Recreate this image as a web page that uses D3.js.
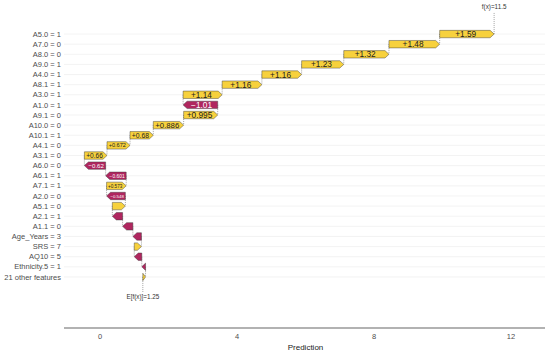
<!DOCTYPE html>
<html><head><meta charset="utf-8">
<script src="https://cdn.jsdelivr.net/npm/d3@7"></script>
<style>body{margin:0;background:#fff}svg{display:block}text{font-family:"Liberation Sans",Arial,sans-serif}</style>
</head><body>
<script>
const features = ["A5.0 = 1","A7.0 = 0","A8.0 = 0","A9.0 = 1","A4.0 = 1","A8.1 = 1","A3.0 = 1","A1.0 = 1","A9.1 = 0","A10.0 = 0","A10.1 = 1","A4.1 = 0","A3.1 = 0","A6.0 = 0","A6.1 = 1","A7.1 = 1","A2.0 = 0","A5.1 = 0","A2.1 = 1","A1.1 = 0","Age_Years = 3","SRS = 7","AQ10 = 5","Ethnicity.5 = 1","21 other features"];
const shapValues = [1.59,1.48,1.32,1.23,1.16,1.16,1.14,-1.01,0.995,0.886,0.68,0.672,0.66,-0.62,-0.601,0.573,-0.548,0.38,-0.30,-0.30,-0.25,0.21,-0.22,-0.11,0.08];
const baseline = 1.25;
const baselineLabel = "E[f(x)]=1.25";
const predictionLabel = "f(x)=11.5";
const xTicks = [0,4,8,12];
const xTitle = "Prediction";

const W = 550, H = 351;
const svg = d3.select("body").append("svg").attr("width", W).attr("height", H);
const x = d3.scaleLinear().domain([0, 12]).range([100, 511]);
const y = d3.scaleBand().domain(features).range([29, 282]);
const panelL = 64, panelR = 545;
const barH = 7.4, tipMax = 4;
const yellow = "#f7d13d", red = "#b0265f";

const rows = [];
let cum = baseline;
for (let i = features.length - 1; i >= 0; i--) {
  const v = shapValues[i];
  rows[i] = {f: features[i], v, start: cum, end: cum + v};
  cum += v;
}
const finalPred = cum;

svg.append("g").selectAll("line").data(features).join("line")
  .attr("x1", panelL).attr("x2", panelR)
  .attr("y1", d => y(d) + y.bandwidth()/2).attr("y2", d => y(d) + y.bandwidth()/2)
  .attr("stroke", "#ebebeb").attr("stroke-width", 0.6);

svg.append("g").selectAll("text").data(features).join("text")
  .attr("x", 61).attr("y", d => y(d) + y.bandwidth()/2).attr("dy", "0.35em")
  .attr("text-anchor", "end").attr("font-size", 7.5).attr("fill", "#4d4d4d").text(d => d);

const conn = svg.append("g").attr("stroke", "#666").attr("stroke-width", 0.6).attr("stroke-dasharray", "1,1");
for (let i = 0; i < rows.length - 1; i++) {
  const yc = y(rows[i].f) + y.bandwidth()/2, yn = y(rows[i+1].f) + y.bandwidth()/2;
  conn.append("line").attr("x1", x(rows[i].start)).attr("x2", x(rows[i].start))
    .attr("y1", yc).attr("y2", yn);
}
const yb = y(features[features.length-1]) + y.bandwidth()/2;
conn.append("line").attr("x1", x(baseline)).attr("x2", x(baseline)).attr("y1", yb).attr("y2", 292);
const yt = y(features[0]) + y.bandwidth()/2;
conn.append("line").attr("x1", x(finalPred)).attr("x2", x(finalPred)).attr("y1", yt).attr("y2", 12);

svg.append("text").attr("x", x(baseline)).attr("y", 299).attr("text-anchor", "middle")
  .attr("font-size", 6.3).attr("fill", "#333").text(baselineLabel);
svg.append("text").attr("x", x(finalPred)).attr("y", 9).attr("text-anchor", "middle")
  .attr("font-size", 6.3).attr("fill", "#333").text(predictionLabel);

const fmt = v => (v >= 0 ? "+" : "\u2212") + d3.format(".3~g")(Math.abs(v));
const bars = svg.append("g");
rows.forEach(r => {
  const yc = y(r.f) + y.bandwidth()/2, t = yc - barH/2, b = yc + barH/2;
  const x0 = x(r.start), x1 = x(r.end);
  const w = Math.abs(x1 - x0);
  const tip = Math.min(tipMax, w);
  const dir = r.v >= 0 ? 1 : -1;
  const pts = [[x0, t], [x1 - dir*tip, t], [x1, yc], [x1 - dir*tip, b], [x0, b]];
  bars.append("polygon").attr("points", pts.map(p => p.join(",")).join(" "))
    .attr("fill", r.v >= 0 ? yellow : red).attr("stroke", "#3a3a3a").attr("stroke-width", 0.45);
  const label = fmt(r.v);
  const emW = label.length * 0.556 + 0.05;
  const avail = w - 4;
  let fs = Math.min(8.3, avail / emW);
  if (fs >= 4) {
    bars.append("text").attr("x", (x0 + x1)/2 - dir*1.2).attr("y", yc).attr("dy", "0.36em")
      .attr("text-anchor", "middle").attr("font-size", fs)
      .attr("fill", r.v >= 0 ? "#222" : "#fff").text(label);
  }
});

svg.append("line").attr("x1", panelL).attr("x2", panelR).attr("y1", 328).attr("y2", 328)
  .attr("stroke", "#222").attr("stroke-width", 0.7);
svg.append("g").selectAll("text").data(xTicks).join("text")
  .attr("x", d => x(d)).attr("y", 336).attr("dy", "0.35em").attr("text-anchor", "middle")
  .attr("font-size", 7.5).attr("fill", "#4d4d4d").text(d => d);
svg.append("text").attr("x", (panelL + panelR)/2 + 1).attr("y", 347).attr("dy", "0.35em")
  .attr("text-anchor", "middle").attr("font-size", 8).attr("fill", "#222").text(xTitle);
</script>
</body></html>
